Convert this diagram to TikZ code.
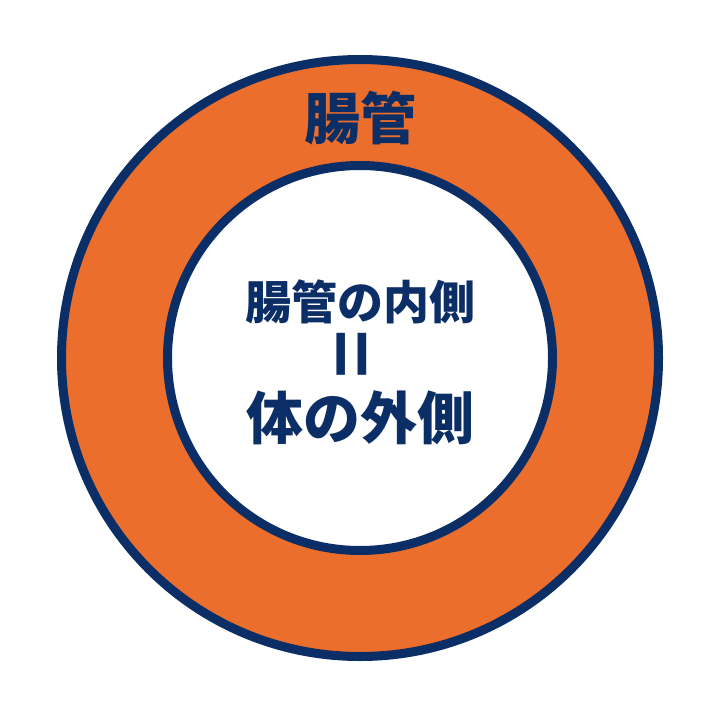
\documentclass[tikz,border=0pt]{standalone}
\usepackage{fontspec}
\newfontfamily\cjk{Noto Sans CJK JP}[BoldFont={Noto Sans CJK JP Black}]
\newfontfamily\cjkmid{Noto Sans CJK JP Bold}
\definecolor{ringorange}{HTML}{EC6E2C}
\definecolor{navy}{HTML}{0B2E66}
\tikzset{
  ring/.style={draw=navy, line width=9pt},
  label/.style={text=navy, font=\cjk\bfseries, inner sep=0pt, anchor=center}
}
\begin{document}
\begin{tikzpicture}[x=1pt,y=-1pt]
\useasboundingbox (0,0) rectangle (720,720);
\fill[white] (0,0) rectangle (720,720);
\node[ring, circle, fill=ringorange, minimum size=597pt, inner sep=0pt] (outer) at (360,358) {};
\node[ring, circle, fill=white, minimum size=385pt, inner sep=0pt] (inner) at (360,358) {};
\node[label, font=\cjk\bfseries\fontsize{56}{56}\selectfont] (tube) at (360,118) {腸管};
\node[label, font=\cjk\bfseries\fontsize{46}{46}\selectfont] (line1) at (360,302) {腸管の内側};
\node[label, font=\cjkmid\fontsize{82}{82}\selectfont, rotate=90] (eq) at (360,354) {=};
\node[label, font=\cjk\bfseries\fontsize{57}{57}\selectfont] (line2) at (360,418) {体の外側};
\end{tikzpicture}
\end{document}
